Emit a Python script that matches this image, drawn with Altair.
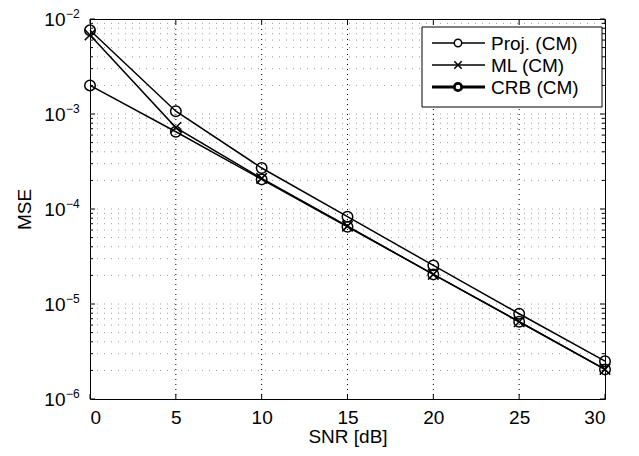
import altair as alt
import pandas as pd

snr = [0, 5, 10, 15, 20, 25, 30]
proj = [7.6e-3, 1.07e-3, 2.7e-4, 8.3e-5, 2.55e-5, 7.9e-6, 2.5e-6]
ml = [6.8e-3, 7.2e-4, 2.1e-4, 6.6e-5, 2.05e-5, 6.5e-6, 2.05e-6]
crb = [2.0e-3, 6.5e-4, 2.05e-4, 6.5e-5, 2.05e-5, 6.5e-6, 2.05e-6]
series_names = ["Proj. (CM)", "ML (CM)", "CRB (CM)"]

x_ticks = [0, 5, 10, 15, 20, 25, 30]
y_major = [1e-6, 1e-5, 1e-4, 1e-3, 1e-2]
y_exp = ["\u22126", "\u22125", "\u22124", "\u22123", "\u22122"]
y_minor = [m * 10.0 ** k for k in range(-6, -2) for m in range(2, 10)]

W, H = 515, 380
FONT = "Liberation Sans"
FS = 19
XPATH = "M-1,-1L1,1M-1,1L1,-1"

rows = []
for name, vals in zip(series_names, [proj, ml, crb]):
    for s, v in zip(snr, vals):
        rows.append({"snr": s, "mse": v, "series": name})
df = pd.DataFrame(rows)

xs = alt.Scale(domain=[0, 30], nice=False, zero=False)
ys = alt.Scale(type="log", domain=[1e-6, 1e-2], nice=False)

X = alt.X("snr:Q", scale=xs, title="SNR [dB]",
          axis=alt.Axis(values=x_ticks, grid=False, ticks=False, domain=False,
                        labelFontSize=FS, labelFont=FONT, labelPadding=9,
                        titleFontSize=FS, titleFont=FONT, titleFontWeight="normal",
                        titlePadding=0, labelColor="black", titleColor="black"))
Y = alt.Y("mse:Q", scale=ys, title="MSE",
          axis=alt.Axis(values=y_major, labelExpr="'10'", grid=False, ticks=False,
                        domain=False, labelFontSize=FS, labelFont=FONT, labelPadding=25,
                        titleFontSize=FS, titleFont=FONT, titleFontWeight="normal",
                        titlePadding=9, labelColor="black", titleColor="black"))

SW = [1.5, 1.5, 2.8]
sw_scale = alt.Scale(domain=series_names, range=SW)

lines = alt.Chart(df).mark_line(color="black").encode(
    x=X, y=Y, detail="series:N",
    strokeWidth=alt.StrokeWidth("series:N", scale=sw_scale, legend=None),
)
points = alt.Chart(df).mark_point(color="black", filled=False, opacity=1, size=110).encode(
    x=alt.X("snr:Q", scale=xs), y=alt.Y("mse:Q", scale=ys),
    shape=alt.Shape("series:N", scale=alt.Scale(domain=series_names,
                                                 range=["circle", XPATH, "circle"]), legend=None),
    strokeWidth=alt.StrokeWidth("series:N", scale=sw_scale, legend=None),
)

# grid
ygrid_df = pd.DataFrame({"v": y_major[1:-1] + y_minor})
ygrid = alt.Chart(ygrid_df).mark_rule(color="#9a9a9a", strokeDash=[1, 6], strokeWidth=1).encode(
    y=alt.Y("v:Q", scale=ys), x=alt.value(0), x2=alt.value(W))
xgrid_df = pd.DataFrame({"v": x_ticks[1:-1]})
xgrid = alt.Chart(xgrid_df).mark_rule(color="black", strokeDash=[1, 4], strokeWidth=1).encode(
    x=alt.X("v:Q", scale=xs), y=alt.value(0), y2=alt.value(H))

# inside ticks
xt = pd.DataFrame({"v": x_ticks})
xtick_b = alt.Chart(xt).mark_rule(color="black").encode(
    x=alt.X("v:Q", scale=xs), y=alt.value(H), y2=alt.value(H - 5))
xtick_t = alt.Chart(xt).mark_rule(color="black").encode(
    x=alt.X("v:Q", scale=xs), y=alt.value(0), y2=alt.value(5))
ymaj = pd.DataFrame({"v": y_major})
ymin = pd.DataFrame({"v": y_minor})
ytick_l = alt.Chart(ymaj).mark_rule(color="black").encode(
    y=alt.Y("v:Q", scale=ys), x=alt.value(0), x2=alt.value(5))
ytick_r = alt.Chart(ymaj).mark_rule(color="black").encode(
    y=alt.Y("v:Q", scale=ys), x=alt.value(W), x2=alt.value(W - 5))
ymtick_l = alt.Chart(ymin).mark_rule(color="black").encode(
    y=alt.Y("v:Q", scale=ys), x=alt.value(0), x2=alt.value(3))
ymtick_r = alt.Chart(ymin).mark_rule(color="black").encode(
    y=alt.Y("v:Q", scale=ys), x=alt.value(W), x2=alt.value(W - 3))

# exponents
exp_df = pd.DataFrame({"v": y_major, "e": y_exp})
exps = alt.Chart(exp_df).mark_text(align="left", baseline="middle", fontSize=12, font=FONT,
                                   dy=-5, color="black").encode(
    y=alt.Y("v:Q", scale=ys), x=alt.value(-24), text="e:N")

# legend
LX0, LX1, LY0, LY1 = 332, 512, 8, 88
leg_box = alt.Chart(pd.DataFrame({"a": [0]})).mark_rect(
    fill="white", stroke="black", strokeWidth=1).encode(
    x=alt.value(LX0), x2=alt.value(LX1), y=alt.value(LY0), y2=alt.value(LY1))
leg_layers = [leg_box]
leg_shapes = ["circle", XPATH, "circle"]
for i, name in enumerate(series_names):
    yy = 24 + 22 * i
    base = alt.Chart(pd.DataFrame({"a": [0]}))
    leg_layers.append(base.mark_rule(color="black", strokeWidth=SW[i]).encode(
        x=alt.value(342), x2=alt.value(395), y=alt.value(yy)))
    leg_layers.append(base.mark_point(filled=False, fill="white", stroke="black",
                                      fillOpacity=1, strokeOpacity=1,
                                      shape=leg_shapes[i], size=55,
                                      strokeWidth=SW[i]).encode(
        x=alt.value(368), y=alt.value(yy)))
    leg_layers.append(base.mark_text(align="left", baseline="middle", fontSize=FS, font=FONT,
                                     color="black").encode(
        x=alt.value(401), y=alt.value(yy + 1), text=alt.value(name)))

chart = alt.layer(
    ygrid, xgrid, lines, points, xtick_b, xtick_t, ytick_l, ytick_r, ymtick_l, ymtick_r,
    exps, *leg_layers
).properties(
    width=W, height=H,
    autosize=alt.AutoSizeParams(type="none"),
    padding={"left": 82, "top": 11, "right": 26, "bottom": 49},
    background="white",
).configure_view(stroke="black", strokeWidth=1)

chart.save("out.html", embed_options={"renderer": "svg", "actions": False})
